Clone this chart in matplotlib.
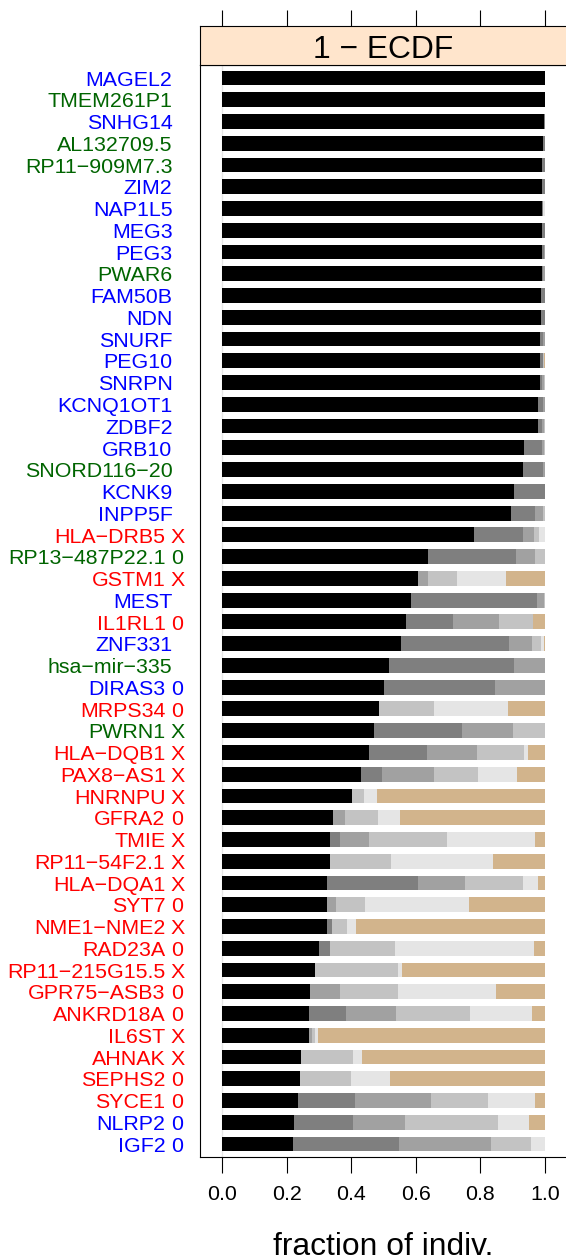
import matplotlib
matplotlib.use("Agg")
import matplotlib.pyplot as plt
from matplotlib.transforms import blended_transform_factory
import numpy as np

plt.rcParams['font.family'] = ['Liberation Sans', 'DejaVu Sans']

# ---------------- data ----------------
genes = ["MAGEL2", "TMEM261P1", "SNHG14", "AL132709.5", "RP11−909M7.3", "ZIM2", "NAP1L5",
         "MEG3", "PEG3", "PWAR6", "FAM50B", "NDN", "SNURF", "PEG10", "SNRPN", "KCNQ1OT1",
         "ZDBF2", "GRB10", "SNORD116−20", "KCNK9", "INPP5F", "HLA−DRB5", "RP13−487P22.1",
         "GSTM1", "MEST", "IL1RL1", "ZNF331", "hsa−mir−335", "DIRAS3", "MRPS34", "PWRN1",
         "HLA−DQB1", "PAX8−AS1", "HNRNPU", "GFRA2", "TMIE", "RP11−54F2.1", "HLA−DQA1",
         "SYT7", "NME1−NME2", "RAD23A", "RP11−215G15.5", "GPR75−ASB3", "ANKRD18A", "IL6ST",
         "AHNAK", "SEPHS2", "SYCE1", "NLRP2", "IGF2"]
suffix = ["", "", "", "", "", "", "", "", "", "", "", "", "", "", "", "", "", "", "", "",
          "", "X", "0", "X", "", "0", "", "", "0", "0", "X", "X", "X", "X", "0", "X", "X",
          "X", "0", "X", "0", "X", "0", "0", "X", "X", "0", "0", "0", "0"]
label_group = ["b", "g", "b", "g", "g", "b", "b", "b", "b", "g", "b", "b", "b", "b", "b", "b",
               "b", "b", "g", "b", "b", "r", "g", "r", "b", "r", "b", "g", "b", "r", "g", "r",
               "r", "r", "r", "r", "r", "r", "r", "r", "r", "r", "r", "r", "r", "r", "r", "r",
               "b", "b"]

black = [1.0, 1.0, 0.997, 0.994, 0.991, 0.991, 0.991, 0.991, 0.991, 0.991, 0.988, 0.988, 0.985,
         0.985, 0.985, 0.978, 0.978, 0.935, 0.932, 0.904, 0.895, 0.780, 0.638, 0.607, 0.585,
         0.570, 0.554, 0.517, 0.502, 0.486, 0.471, 0.455, 0.430, 0.402, 0.344, 0.334, 0.334,
         0.325, 0.325, 0.325, 0.300, 0.288, 0.272, 0.269, 0.269, 0.245, 0.241, 0.235, 0.223, 0.220]
gray50 = [0, 0, 0.003, 0.006, 0.009, 0.009, 0.003, 0.009, 0.006, 0.003, 0.012, 0.012, 0.009,
          0.009, 0.006, 0.016, 0.013, 0.056, 0.062, 0.096, 0.074, 0.152, 0.272, 0, 0.390, 0.145,
          0.335, 0.387, 0.343, 0, 0.272, 0.180, 0.065, 0, 0, 0.031, 0, 0.282, 0, 0.016, 0.034,
          0, 0, 0.115, 0, 0, 0, 0.177, 0.183, 0.328]
gray63 = [0, 0, 0, 0, 0, 0, 0, 0, 0.003, 0.006, 0, 0, 0.006, 0, 0.006, 0.006, 0.006, 0.006,
          0.006, 0, 0.025, 0.034, 0.059, 0.031, 0.022, 0.143, 0.071, 0.096, 0.155, 0, 0.158,
          0.154, 0.161, 0, 0.037, 0.090, 0, 0.145, 0.028, 0, 0, 0, 0.093, 0.155, 0.010, 0, 0,
          0.235, 0.161, 0.285]
gray76 = [0, 0, 0, 0, 0, 0, 0, 0, 0, 0, 0, 0, 0, 0.003, 0.003, 0, 0.003, 0.003, 0, 0, 0.006,
          0.015, 0.031, 0.090, 0.003, 0.105, 0.028, 0, 0, 0.170, 0.099, 0.146, 0.137, 0.038,
          0.102, 0.242, 0.189, 0.180, 0.090, 0.046, 0.202, 0.257, 0.180, 0.229, 0.009, 0.161,
          0.158, 0.177, 0.287, 0.124]
gray90 = [0, 0, 0, 0, 0, 0, 0.006, 0, 0, 0, 0, 0, 0, 0, 0, 0, 0, 0, 0, 0, 0, 0.019, 0, 0.151,
          0, 0, 0.009, 0, 0, 0.229, 0, 0.012, 0.120, 0.040, 0.068, 0.272, 0.316, 0.046, 0.322,
          0.028, 0.430, 0.012, 0.303, 0.192, 0.009, 0.027, 0.121, 0.145, 0.096, 0.043]
tan = [0, 0, 0, 0, 0, 0, 0, 0, 0, 0, 0, 0, 0, 0.003, 0, 0, 0, 0, 0, 0, 0, 0, 0, 0.121, 0,
       0.037, 0.003, 0, 0, 0.115, 0, 0.053, 0.087, 0.520, 0.449, 0.031, 0.161, 0.022, 0.235,
       0.585, 0.034, 0.443, 0.152, 0.040, 0.703, 0.567, 0.480, 0.031, 0.050, 0]

x_ticks = [0.0, 0.2, 0.4, 0.6, 0.8, 1.0]
x_ticklabels = ["0.0", "0.2", "0.4", "0.6", "0.8", "1.0"]
strip_title = "1 − ECDF"
x_title = "fraction of indiv."

# ---------------- style ----------------
seg_series = [black, gray50, gray63, gray76, gray90, tan]
seg_colors = ["#000000", "#7F7F7F", "#A1A1A1", "#C3C3C3", "#E5E5E5", "#D2B48C"]
label_colors = {"b": "#0000FF", "g": "#006400", "r": "#FF0000"}

W, H = 566, 1259
fig = plt.figure(figsize=(W / 100, H / 100), dpi=100)

def fx(px):
    return px / W

def fy(py):
    return 1 - py / H

panel_l, panel_r = 200, 567
panel_t, panel_b = 65, 1157
strip_t = 26
lab_fs = 15.4
big_fs = 22.9

ax = fig.add_axes([fx(panel_l), fy(panel_b), fx(panel_r - panel_l), (panel_b - panel_t) / H])
sax = fig.add_axes([fx(panel_l), fy(panel_t), fx(panel_r - panel_l), (panel_t - strip_t) / H])

n = len(genes)
ypos = np.arange(n, 0, -1)  # first gene on top

ax.axvline(0, color="#E6E6E6", lw=1.0, zorder=0)
left = np.zeros(n)
for vals, col in zip(seg_series, seg_colors):
    v = np.array(vals, dtype=float)
    ax.barh(ypos, v, left=left, height=0.68, color=col, edgecolor="none", linewidth=0, zorder=2)
    left += v

ax.set_xlim(-0.068, 1.068)
ax.set_ylim(0.4, n + 0.6)
ax.set_yticks([])
ax.set_xticks(x_ticks)
ax.set_xticklabels(x_ticklabels, fontsize=lab_fs)
ax.tick_params(axis="x", direction="out", length=11.2, width=0.8, pad=9.0, colors="black")
for s in ax.spines.values():
    s.set_linewidth(0.8)
ax.spines["right"].set_visible(False)

# strip
sax.set_facecolor("#FFE5CC")
sax.set_xlim(-0.068, 1.068)
sax.set_ylim(0, 1)
sax.set_yticks([])
sax.set_xticks(x_ticks)
sax.xaxis.set_ticks_position("top")
sax.tick_params(axis="x", direction="out", length=11.2, width=0.8, labeltop=False, labelbottom=False)
for s in sax.spines.values():
    s.set_linewidth(0.8)
sax.spines["right"].set_visible(False)
fig.text(fx(383.5), fy(57.5), strip_title, ha="center", va="baseline", fontsize=big_fs)

# y labels (baseline placed so cap-height centre sits on the bar centre)
px_per_unit = (panel_b - panel_t) / (n + 0.2)
cap_px = 0.716 * lab_fs * 100 / 72
dy = (cap_px / 2) / px_per_unit
trans = blended_transform_factory(fig.transFigure, ax.transData)
for g, suf, grp, y in zip(genes, suffix, label_group, ypos):
    c = label_colors[grp]
    if suf:
        ax.text(fx(165.5), y - dy, g, transform=trans, ha="right", va="baseline", color=c,
                fontsize=lab_fs, clip_on=False)
        ax.text(fx(171.0), y - dy, suf, transform=trans, ha="left", va="baseline", color=c,
                fontsize=lab_fs, clip_on=False)
    else:
        ax.text(fx(172.5), y - dy, g, transform=trans, ha="right", va="baseline", color=c,
                fontsize=lab_fs, clip_on=False)

fig.text(fx(383.5), fy(1255), x_title, ha="center", va="baseline", fontsize=big_fs)

fig.savefig("out.png", dpi=100)
